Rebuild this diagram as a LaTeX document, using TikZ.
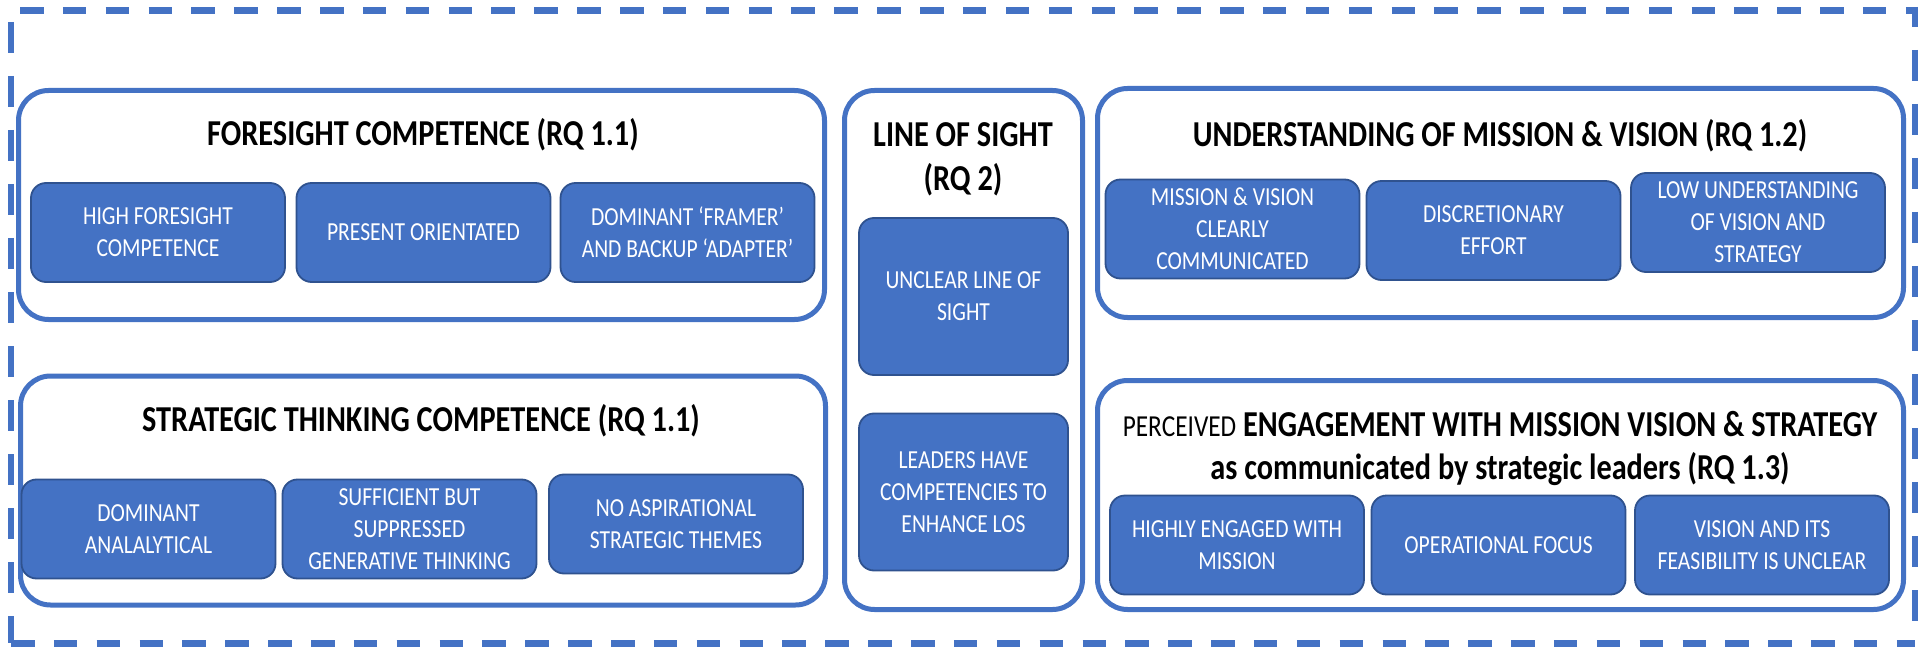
\documentclass[tikz,border=0pt]{standalone}
\usepackage{fontspec}
\setmainfont{Carlito}[FakeStretch=0.83]
\definecolor{accent}{HTML}{4472C4}
\definecolor{itemline}{HTML}{2F528F}
\begin{document}
\begin{tikzpicture}[x=1pt,y=-1pt,
  group/.style={draw=accent, line width=5pt, rounded corners=30pt, fill=white, inner sep=0pt},
  item/.style={draw=itemline, fill=accent, line width=1.8pt, rounded corners=15pt,
    text=white, align=center, font=\fontsize{26}{32}\selectfont, inner sep=0pt,
    minimum width=254pt, minimum height=99pt},
  tallitem/.style={item, minimum width=209pt, minimum height=157pt},
  heading/.style={font=\bfseries\fontsize{36.5}{44}\selectfont, anchor=base, inner sep=0pt},
  hframe/.style={draw=accent, line width=7pt, dash pattern=on 23.5pt off 19.36pt},
  vframe/.style={draw=accent, line width=5.5pt, dash pattern=on 31pt off 23pt}]
\useasboundingbox (0,0) rectangle (1923,647);

% dashed outer frame
\coordinate (tl) at (11,10.5);
\coordinate (tr) at (1917,10.5);
\coordinate (bl) at (11,643);
\coordinate (br) at (1915,643);
\coordinate (tlh) at (20,10.5);
\coordinate (tlv) at (11,22);
\coordinate (trv) at (1915,7);
\draw[hframe] (tlh) -- (tr);
\draw[hframe] (bl) -- (br);
\draw[vframe] (tlv) -- (bl);
\draw[vframe, dash phase=11pt] (trv) -- (br);

% group panels
\node[group, minimum width=806pt, minimum height=229pt] (fore) at (421.5,205) {};
\node[group, minimum width=805pt, minimum height=229pt] (strat) at (423,490.5) {};
\node[group, minimum width=238pt, minimum height=519pt] (los) at (963.5,350) {};
\node[group, minimum width=806pt, minimum height=229pt] (und) at (1500.5,203) {};
\node[group, minimum width=806pt, minimum height=229pt] (perc) at (1500.5,495) {};

% headings
\node[heading] (foreT) at (423,146) {FORESIGHT COMPETENCE (RQ 1.1)};
\node[heading] (stratT) at (421,431) {STRATEGIC THINKING COMPETENCE (RQ 1.1)};
\node[heading] (losT1) at (963,147) {LINE OF SIGHT};
\node[heading] (losT2) at (963,191) {(RQ 2)};
\node[heading] (undT) at (1500,147) {UNDERSTANDING OF MISSION \& VISION (RQ 1.2)};
\node[heading] (percT1) at (1500,436) {{\mdseries\fontsize{30.5}{44}\selectfont PERCEIVED} ENGAGEMENT WITH MISSION VISION \& STRATEGY};
\node[heading] (percT2) at (1500,479) {as communicated by strategic leaders (RQ 1.3)};

% foresight items
\node[item] (fore1) at (158,232.5) {HIGH FORESIGHT\\COMPETENCE};
\node[item] (fore2) at (423.5,232.5) {PRESENT ORIENTATED};
\node[item] (fore3) at (687.5,232.5) {DOMINANT ‘FRAMER’\\AND BACKUP ‘ADAPTER’};

% strategic thinking items
\node[item] (strat1) at (148.5,529) {DOMINANT\\ANALALYTICAL};
\node[item] (strat2) at (409.5,529) {SUFFICIENT BUT\\SUPPRESSED\\GENERATIVE THINKING};
\node[item] (strat3) at (676,524) {NO ASPIRATIONAL\\STRATEGIC THEMES};

% line of sight items
\node[tallitem] (los1) at (963.5,296.5) {UNCLEAR LINE OF\\SIGHT};
\node[tallitem] (los2) at (963.5,492) {LEADERS HAVE\\COMPETENCIES TO\\ENHANCE LOS};

% understanding items
\node[item] (und1) at (1232.5,229) {MISSION \& VISION\\CLEARLY\\COMMUNICATED};
\node[item] (und2) at (1493.5,230.5) {DISCRETIONARY\\EFFORT};
\node[item] (und3) at (1758,222.5) {LOW UNDERSTANDING\\OF VISION AND\\STRATEGY};

% engagement items
\node[item] (perc1) at (1237,545) {HIGHLY ENGAGED WITH\\MISSION};
\node[item] (perc2) at (1498.5,545) {OPERATIONAL FOCUS};
\node[item] (perc3) at (1762,545) {VISION AND ITS\\FEASIBILITY IS UNCLEAR};
\end{tikzpicture}
\end{document}
